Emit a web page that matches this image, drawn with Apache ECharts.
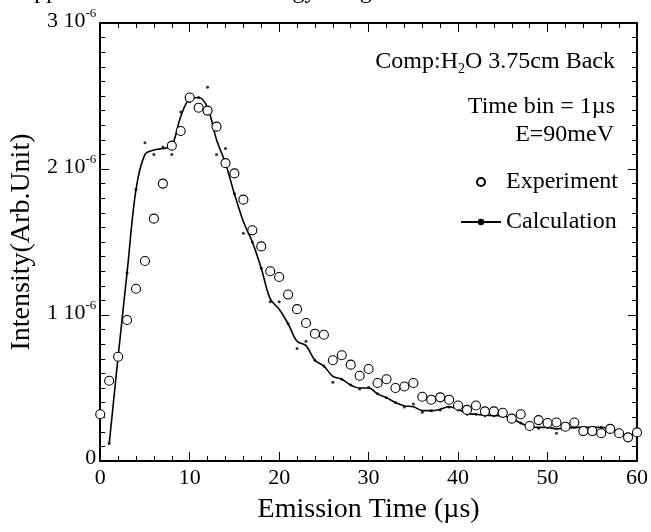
<!DOCTYPE html>
<html>
<head>
<meta charset="utf-8">
<title>Emission time spectrum</title>
<script src="https://cdn.jsdelivr.net/npm/echarts@6/dist/echarts.min.js"></script>
<style>
  html, body { margin: 0; padding: 0; background: #fff; }
  #chart { width: 651px; height: 532px; }
</style>
</head>
<body>
<div id="chart"></div>
<script>
  // values in units of 1e-6 (Arb. Unit), time in µs
  const expTime = [0, 1, 2, 3, 4, 5, 6, 7, 8, 9, 10, 11, 12, 13, 14, 15, 16, 17, 18, 19, 20,
    21, 22, 23, 24, 25, 26, 27, 28, 29, 30, 31, 32, 33, 34, 35, 36, 37, 38, 39, 40,
    41, 42, 43, 44, 45, 46, 47, 48, 49, 50, 51, 52, 53, 54, 55, 56, 57, 58, 59, 60]
  const expValue = [0.32, 0.55, 0.714, 0.966, 1.18, 1.37, 1.66, 1.90, 2.16, 2.26, 2.49,
    2.42, 2.40, 2.29, 2.04, 1.97, 1.79, 1.58, 1.47, 1.30, 1.26,
    1.14, 1.04, 0.945, 0.872, 0.865, 0.69, 0.724, 0.66, 0.584, 0.63,
    0.534, 0.56, 0.50, 0.51, 0.534, 0.44, 0.42, 0.436, 0.42, 0.38,
    0.35, 0.38, 0.34, 0.34, 0.33, 0.29, 0.32, 0.24, 0.28, 0.26,
    0.264, 0.235, 0.264, 0.205, 0.205, 0.19, 0.22, 0.19, 0.162, 0.196]

  // calculation: smoothed curve and raw bin values
  const calcTime = [1, 2, 3, 4, 5, 6, 7, 8, 9, 10, 11, 12, 13, 14, 15, 16, 17, 18, 19, 20,
    21, 22, 23, 24, 25, 26, 27, 28, 29, 30, 31, 32, 33, 34, 35, 36, 37, 38, 39, 40,
    41, 42, 43, 44, 45, 46, 47, 48, 49, 50, 51, 52, 53, 54, 55, 56, 57, 58, 59, 60]
  const calcCurve = [0.116, 0.714, 1.29, 1.86, 2.10, 2.13, 2.14, 2.16, 2.36, 2.48,
    2.49, 2.42, 2.20, 2.04, 1.83, 1.64, 1.50, 1.32, 1.11, 1.04,
    0.94, 0.82, 0.79, 0.69, 0.65, 0.58, 0.56, 0.52, 0.50, 0.50,
    0.46, 0.434, 0.40, 0.377, 0.372, 0.345, 0.345, 0.354, 0.372, 0.354,
    0.326, 0.32, 0.313, 0.31, 0.31, 0.29, 0.26, 0.235, 0.23, 0.23,
    0.22, 0.224, 0.23, 0.23, 0.23, 0.23, 0.22, 0.20, 0.17, 0.21]
  const calcDots = [0.12, 0.72, 1.29, 1.86, 2.18, 2.10, 2.15, 2.10, 2.39, 2.46,
    2.49, 2.56, 2.10, 2.14, 1.83, 1.56, 1.50, 1.32, 1.09, 1.09,
    0.94, 0.77, 0.82, 0.69, 0.65, 0.54, 0.56, 0.52, 0.494, 0.504,
    0.46, 0.434, 0.40, 0.37, 0.39, 0.334, 0.345, 0.35, 0.37, 0.35,
    0.32, 0.32, 0.31, 0.31, 0.304, 0.284, 0.26, 0.23, 0.224, 0.23,
    0.19, 0.224, 0.23, 0.23, 0.23, 0.23, 0.22, 0.18, 0.14, 0.21]

  const serif = 'Liberation Serif, Times New Roman, serif'

  const pairs = (xs, ys) => xs.map((x, i) => [x, ys[i]])

  // y tick label like "2 10^-6"
  const yLabel = (v) => (v === 0 ? '{m|0}' : '{m|' + v + ' 10}{s|-6}')

  const tickCommon = {
    axisLine: { show: true, onZero: false, lineStyle: { color: '#000', width: 2 } },
    axisTick: { show: true, inside: true, length: 9, lineStyle: { color: '#000', width: 1 } },
    minorTick: { show: true, length: 5, lineStyle: { color: '#000', width: 1 } },
    splitLine: { show: false }
  }

  const chart = echarts.init(document.getElementById('chart'), null, { renderer: 'canvas' })
  chart.setOption({
    animation: false,
    backgroundColor: '#fff',
    textStyle: { fontFamily: serif, color: '#000' },
    grid: { left: 99, right: 11, top: 23, bottom: 71 },
    xAxis: [
      {
        type: 'value', min: 0, max: 60, interval: 10, position: 'bottom',
        ...tickCommon,
        minorTick: { ...tickCommon.minorTick, splitNumber: 5 },
        axisLabel: { fontSize: 22, fontFamily: serif, color: '#000', margin: 6 },
        name: 'Emission Time (µs)',
        nameLocation: 'middle',
        nameGap: 35,
        nameTextStyle: { fontSize: 28, fontFamily: serif, color: '#000' }
      },
      {
        type: 'value', min: 0, max: 60, interval: 10, position: 'top',
        ...tickCommon,
        minorTick: { ...tickCommon.minorTick, splitNumber: 5 },
        axisLabel: { show: false }
      }
    ],
    yAxis: [
      {
        type: 'value', min: 0, max: 3, interval: 1, position: 'left',
        ...tickCommon,
        minorTick: { ...tickCommon.minorTick, splitNumber: 10 },
        axisLabel: {
          margin: 4,
          padding: [0, 0, 6, 0],
          formatter: yLabel,
          rich: {
            m: { fontSize: 22, fontFamily: serif, color: '#000', verticalAlign: 'bottom' },
            s: { fontSize: 13, fontFamily: serif, color: '#000', verticalAlign: 'bottom', padding: [0, 0, 12, 0] }
          }
        },
        name: 'Intensity(Arb.Unit)',
        nameLocation: 'middle',
        nameGap: 64,
        nameTextStyle: { fontSize: 28, fontFamily: serif, color: '#000' }
      },
      {
        type: 'value', min: 0, max: 3, interval: 1, position: 'right',
        ...tickCommon,
        minorTick: { ...tickCommon.minorTick, splitNumber: 10 },
        axisLabel: { show: false }
      }
    ],
    legend: {
      orient: 'vertical',
      left: 455,
      top: 165,
      itemWidth: 40,
      itemHeight: 8,
      itemGap: 16,
      textStyle: { fontSize: 24, fontFamily: serif, color: '#000' },
      data: ['Experiment', 'Calculation']
    },
    graphic: [
      {
        type: 'text', x: 17, y: 4, silent: true,
        style: { text: 'Applied to the Thermal Energy Integral', font: '24px ' + serif, fill: '#000', verticalAlign: 'bottom' }
      },
      {
        type: 'text', x: 615, y: 62, silent: true,
        style: {
          text: '{n|Comp:H}{b|2}{n|O 3.75cm Back}',
          align: 'right', verticalAlign: 'middle',
          rich: {
            n: { font: '24px ' + serif, fill: '#000' },
            b: { font: '14px ' + serif, fill: '#000', padding: [14, 0, 0, 0] }
          }
        }
      },
      {
        type: 'text', x: 615, y: 107, silent: true,
        style: { text: 'Time bin = 1µs', font: '24px ' + serif, fill: '#000', align: 'right', verticalAlign: 'middle' }
      },
      {
        type: 'text', x: 614, y: 135, silent: true,
        style: { text: 'E=90meV', font: '24px ' + serif, fill: '#000', align: 'right', verticalAlign: 'middle' }
      }
    ],
    series: [
      {
        name: 'Calculation',
        type: 'line',
        data: pairs(calcTime, calcCurve),
        smooth: 0.35,
        symbol: 'circle',
        symbolSize: 3,
        showSymbol: false,
        lineStyle: { color: '#000', width: 1.6 },
        itemStyle: { color: '#000' },
        z: 2
      },
      {
        name: 'Calculation dots',
        type: 'scatter',
        data: pairs(calcTime, calcDots),
        symbol: 'circle',
        symbolSize: 3,
        itemStyle: { color: '#000' },
        silent: true,
        z: 3
      },
      {
        name: 'Experiment',
        type: 'scatter',
        data: pairs(expTime, expValue),
        symbol: 'circle',
        symbolSize: 9,
        itemStyle: { color: '#fff', borderColor: '#000', borderWidth: 1.1, opacity: 1 },
        z: 4
      }
    ]
  })
</script>
</body>
</html>
